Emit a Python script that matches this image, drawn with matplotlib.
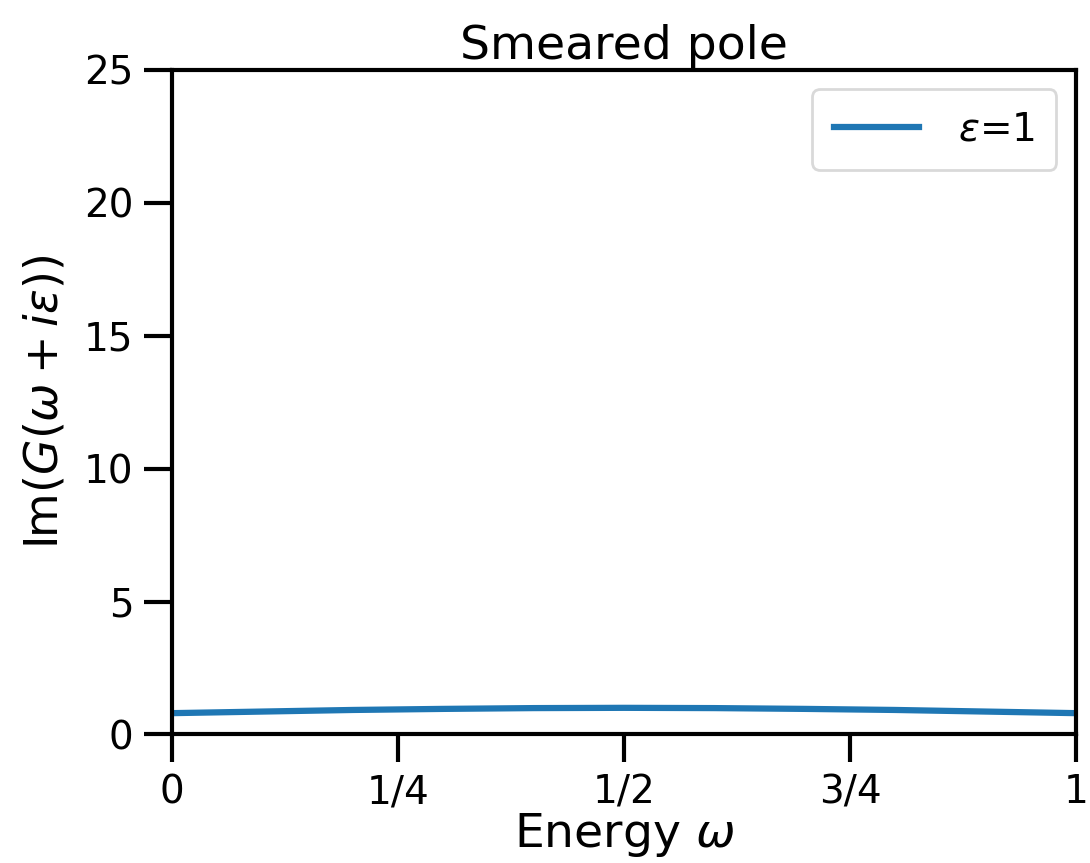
import matplotlib
matplotlib.use('Agg')
import matplotlib.pyplot as plt

# Data
omega = [0.0, 0.1, 0.2, 0.3, 0.4, 0.5, 0.6, 0.7, 0.8, 0.9, 1.0]
im_g = [0.80, 0.86, 0.92, 0.96, 0.99, 1.00, 0.99, 0.96, 0.92, 0.86, 0.80]
xtick_pos = [0, 0.25, 0.5, 0.75, 1]
xtick_labels = ['0', '1/4', '1/2', '3/4', '1']
ytick_pos = [0, 5, 10, 15, 20, 25]

plt.rcParams['font.family'] = 'DejaVu Sans'
plt.rcParams['mathtext.fontset'] = 'dejavusans'

fig = plt.figure(figsize=(10.9, 8.63), dpi=100)
ax = fig.add_axes([0.158, 0.149, 0.829, 0.770])

ax.plot(omega, im_g, color='#1f77b4', linewidth=4.5, label=r'$\varepsilon$=1')

ax.set_xlim(0, 1)
ax.set_ylim(0, 25)
ax.set_xticks(xtick_pos)
ax.set_xticklabels(xtick_labels)
ax.set_yticks(ytick_pos)
ax.tick_params(labelsize=28, length=20, width=3, pad=8)
for s in ax.spines.values():
    s.set_linewidth(3)

ax.set_title('Smeared pole', fontsize=34, pad=8)
ax.set_xlabel(r'Energy $\omega$', fontsize=34, labelpad=0)
ax.set_ylabel(r'Im$(G(\omega + i\varepsilon))$', fontsize=33, labelpad=12)

leg = ax.legend(loc='upper right', fontsize=28, handlelength=2.2,
                handletextpad=1.0, borderpad=0.55)
leg.get_frame().set_linewidth(2)
leg.get_frame().set_edgecolor('#d0d0d0')

fig.savefig('out.png', dpi=100)
